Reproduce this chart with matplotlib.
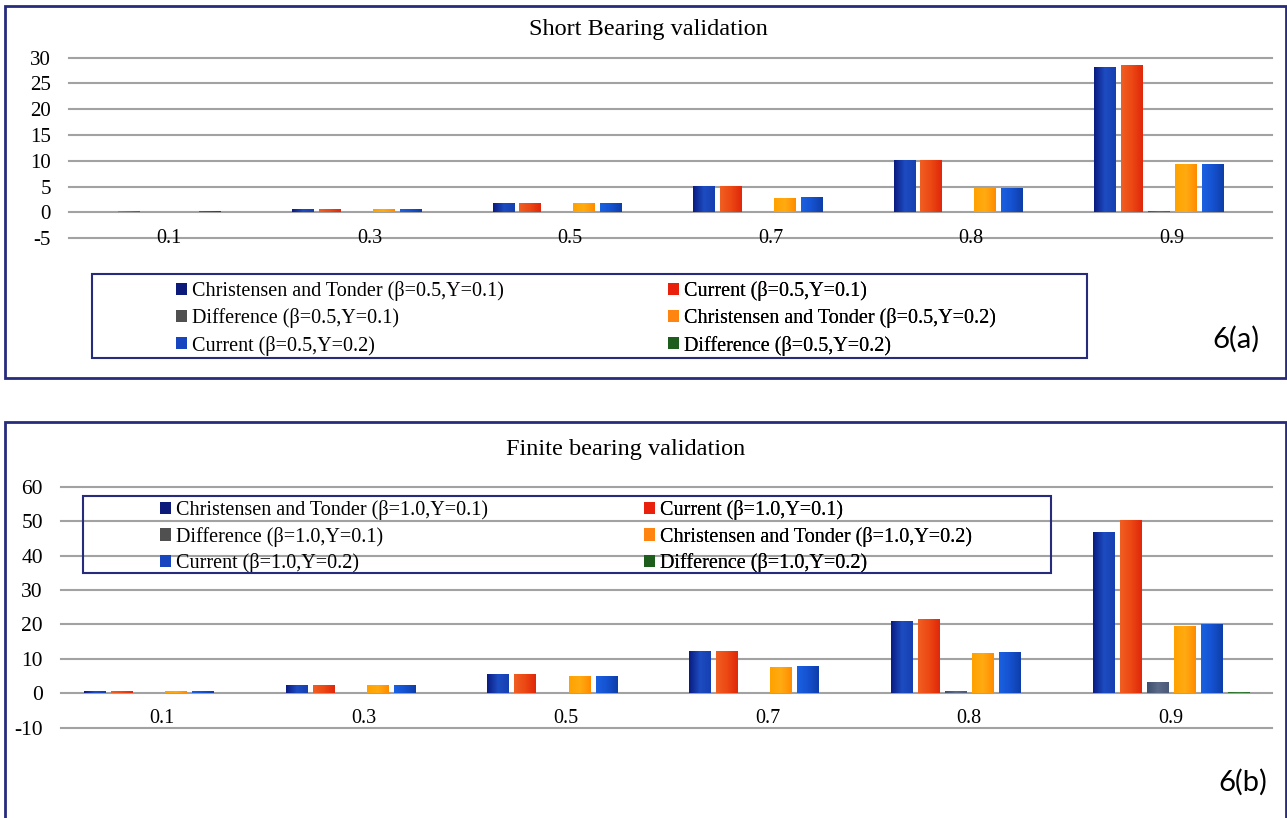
import numpy as np
import matplotlib
matplotlib.use("Agg")
import matplotlib.pyplot as plt
from matplotlib.patches import Rectangle, Patch
from matplotlib.colors import LinearSegmentedColormap

plt.rcParams['font.family'] = ['Liberation Serif', 'DejaVu Serif']
plt.rcParams['axes.unicode_minus'] = False

# ---------------- data ----------------
categories = ['0.1', '0.3', '0.5', '0.7', '0.8', '0.9']

# 6(a) Short bearing validation
a_ct1 = [0.0, 0.7, 1.85, 5.2, 10.1, 28.1]
a_cur1 = [0.25, 0.75, 1.85, 5.2, 10.1, 28.5]
a_diff1 = [0.0, 0.0, 0.0, 0.0, 0.0, 0.3]
a_ct2 = [0.0, 0.7, 1.85, 2.8, 4.8, 9.35]
a_cur2 = [0.25, 0.75, 1.85, 3.0, 4.8, 9.35]
a_diff2 = [0.0, 0.0, 0.0, 0.0, 0.0, 0.0]
a_labels = ['Christensen and Tonder (β=0.5,Y=0.1)', 'Current (β=0.5,Y=0.1)',
            'Difference (β=0.5,Y=0.1)', 'Christensen and Tonder (β=0.5,Y=0.2)',
            'Current (β=0.5,Y=0.2)', 'Difference (β=0.5,Y=0.2)']
a_yticks = [-5, 0, 5, 10, 15, 20, 25, 30]

# 6(b) Finite bearing validation
b_ct1 = [0.68, 2.3, 5.5, 12.2, 21.0, 46.8]
b_cur1 = [0.68, 2.3, 5.5, 12.2, 21.7, 50.3]
b_diff1 = [0.0, 0.0, 0.0, 0.0, 0.7, 3.2]
b_ct2 = [0.68, 2.3, 5.1, 7.6, 11.6, 19.6]
b_cur2 = [0.68, 2.3, 5.1, 7.9, 11.9, 20.0]
b_diff2 = [0.0, 0.0, 0.0, 0.0, 0.0, 0.45]
b_labels = ['Christensen and Tonder (β=1.0,Y=0.1)', 'Current (β=1.0,Y=0.1)',
            'Difference (β=1.0,Y=0.1)', 'Christensen and Tonder (β=1.0,Y=0.2)',
            'Current (β=1.0,Y=0.2)', 'Difference (β=1.0,Y=0.2)']
b_yticks = [-10, 0, 10, 20, 30, 40, 50, 60]

# ---------------- style ----------------
W, H = 1287, 818
flat = ['#0c1a7a', '#e8200c', '#505050', '#ff8510', '#1745c0', '#1d5e1d']
grads = [['#0a1c80', '#1d4cc2', '#1640b0'],
         ['#f05f22', '#ec4814', '#e0280a'],
         ['#3e4f6e', '#5a6a88', '#4a5a78'],
         ['#ffa200', '#ffab12', '#ff8a00'],
         ['#1a60e0', '#1552d0', '#0e3ea8'],
         ['#2c6e2c', '#3c7f3c', '#2c6e2c']]
navy = '#262b7c'

fig = plt.figure(figsize=(W / 100, H / 100), dpi=100)


def px_rect(x0, y0, x1, y1):
    return (x0 / W, 1 - y1 / H, (x1 - x0) / W, (y1 - y0) / H)


def frame(x0, y0, x1, y1, lw):
    l, b, w, h = px_rect(x0, y0, x1, y1)
    fig.add_artist(Rectangle((l, b), w, h, transform=fig.transFigure,
                             fill=False, edgecolor=navy, linewidth=lw))


def panel(rect, series, yticks, label_y, tick_fs):
    ax = fig.add_axes(rect)
    x = np.arange(len(categories))
    n = len(series)
    pitch, width = 0.134, 0.105
    for k, vals in enumerate(series):
        bars = ax.bar(x + (k - (n - 1) / 2) * pitch, vals, width,
                      color=flat[k], zorder=3, linewidth=0)
        cmap = LinearSegmentedColormap.from_list('g%d' % k, grads[k])
        for b in bars:
            h = b.get_height()
            if h <= 0:
                continue
            im = ax.imshow(np.linspace(0, 1, 64).reshape(1, -1), cmap=cmap,
                           extent=[b.get_x(), b.get_x() + b.get_width(),
                                   b.get_y(), b.get_y() + h],
                           aspect='auto', interpolation='bilinear', zorder=4)
            im.set_clip_path(b)
    for yt in yticks:
        ax.axhline(yt, color='#a2a2a2', lw=1.5, zorder=1, clip_on=False)
    ax.set_xlim(-0.5, len(categories) - 0.5)
    ax.set_ylim(yticks[0], yticks[-1])
    ax.set_aspect('auto')
    ax.set_yticks(yticks)
    ax.set_yticklabels([str(t) for t in yticks])
    ax.tick_params(axis='y', length=0, pad=13, labelsize=tick_fs)
    ax.set_xticks([])
    for s in ax.spines.values():
        s.set_visible(False)
    ax.patch.set_alpha(0)
    for i, c in enumerate(categories):
        ax.text(i, label_y, c, ha='center', va='center', fontsize=14.5)
    return ax


def legend_cols(ax, labels, x_cols, y_top, fs, spacing):
    order = [[0, 2, 4], [1, 3, 5]]
    for ci, idx in enumerate(order):
        handles = [Patch(facecolor=flat[i], edgecolor='none') for i in idx]
        leg = ax.legend(handles, [labels[i] for i in idx], loc='upper left',
                        bbox_to_anchor=(x_cols[ci] / W, 1 - y_top / H),
                        bbox_transform=fig.transFigure, frameon=False,
                        borderpad=0, borderaxespad=0, fontsize=fs,
                        handlelength=0.55, handleheight=0.55,
                        handletextpad=0.25, labelspacing=spacing)
        ax.add_artist(leg)


# ---------- panel (a) ----------
frame(5, 6, 1286, 378, 2.0)
ax_a = panel(px_rect(69, 57.5, 1272, 238.3),
             [a_ct1, a_cur1, a_diff1, a_ct2, a_cur2, a_diff2],
             a_yticks, -5, 15)
fig.text(648 / W, 1 - 29 / H, 'Short Bearing validation', ha='center',
         va='center', fontsize=17.5)
frame(92, 274, 1087, 358, 1.5)
legend_cols(ax_a, a_labels, [176, 668], 281, 14.5, 0.36)
fig.text(1236 / W, 1 - 339 / H, '6(a)', ha='center', va='center',
         fontsize=21, family=['Lato', 'DejaVu Sans'])

# ---------- panel (b) ----------
frame(5, 422, 1286, 830, 2.0)
ax_b = panel(px_rect(61, 486.7, 1272, 727.7),
             [b_ct1, b_cur1, b_diff1, b_ct2, b_cur2, b_diff2],
             b_yticks, -7.3, 15.5)
fig.text(625.5 / W, 1 - 449 / H, 'Finite bearing validation', ha='center',
         va='center', fontsize=17.5)
frame(83, 496, 1051, 573, 1.5)
legend_cols(ax_b, b_labels, [160, 644], 500, 14.5, 0.33)
fig.text(1243 / W, 1 - 782 / H, '6(b)', ha='center', va='center',
         fontsize=21, family=['Lato', 'DejaVu Sans'])

fig.savefig('out.png', dpi=100)
